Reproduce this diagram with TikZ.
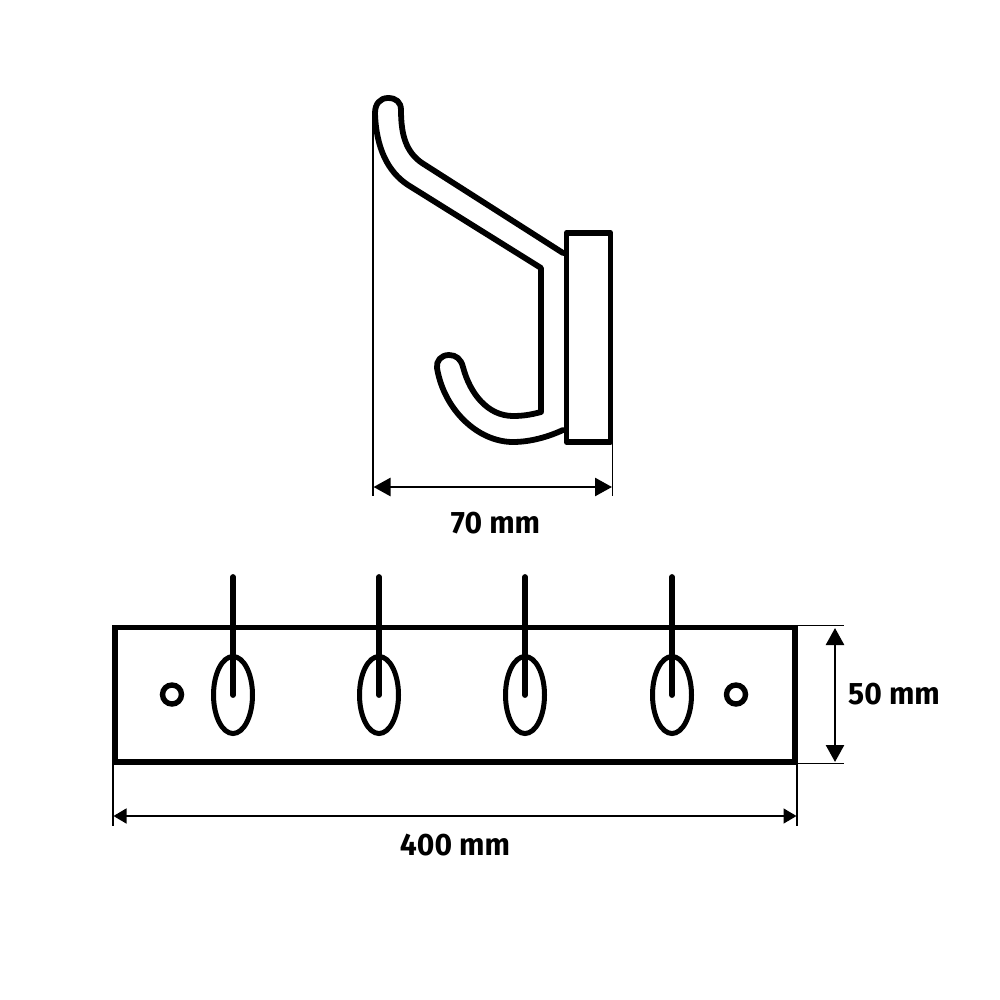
\documentclass[tikz,border=0pt]{standalone}
\usepackage{fontspec}
\setmainfont{Fira Sans}
\usetikzlibrary{arrows.meta}
\tikzset{
  thickline/.style={line width=5.8pt,line join=round,line cap=round},
  barline/.style={line width=5.4pt},
  extline/.style={line width=1.6pt},
  dimbig/.style={line width=2.6pt,{Triangle[length=17pt,width=18pt]}-{Triangle[length=17pt,width=18pt]}},
  dimsmall/.style={line width=1.6pt,{Triangle[length=13pt,width=15pt]}-{Triangle[length=13pt,width=15pt]}},
  dimtext/.style={font=\fontsize{31}{33}\selectfont\bfseries,inner sep=0pt,xscale=.97}
}
\begin{document}
\begin{tikzpicture}[x=1pt,y=-1pt]
\useasboundingbox (0,0) rectangle (1000,1000);
% wall hook, side view
\draw[thickline] (563,253) -- (422,163)
  .. controls (406,152) and (401,135) .. (401,110)
  .. controls (401,102) and (396,98) .. (388,98)
  .. controls (380,98) and (375,104) .. (375,113)
  .. controls (376,148) and (388,172) .. (408,185)
  -- (541,268) -- (541,412)
  .. controls (530,415) and (522,416) .. (513,416)
  .. controls (488,416) and (470,394) .. (463,367)
  .. controls (461,359) and (456,355) .. (449,355)
  .. controls (441,355) and (436,361) .. (437,368)
  .. controls (444,410) and (478,442) .. (513,442)
  .. controls (530,442) and (548,437) .. (563,430);
\draw[thickline] (566.5,233) rectangle (610.5,442);
\coordinate (hl) at (373,115);
\coordinate (hlb) at (373,496);
\coordinate (hr) at (612.5,420);
\coordinate (hrb) at (612.5,496);
\draw[extline] (hl) -- (hlb);
\draw[extline] (hr) -- (hrb);
\draw[dimbig] (373.5,487) -- (612,487);
\node[dimtext] (t70) at (495.5,523) {70 mm};
% rail, front view
\draw[line width=5.2pt] (113,627.5) -- (797,627.5);
\draw[line width=6.4pt] (113,762) -- (797,762);
\draw[barline] (115,625) -- (115,762);
\draw[barline] (795,625) -- (795,762);
\foreach \i/\x in {a/233,b/379,c/525,d/672}{
  \draw[line width=5pt] (\x,695) ellipse [x radius=19.5,y radius=38.5];
  \draw[thickline] (\x,577) -- (\x,695);
}
\draw[line width=5.4pt] (172,694.5) circle (9.5);
\draw[line width=5.4pt] (736,694.5) circle (9.5);
\coordinate (bl) at (113,705);
\coordinate (blb) at (113,826);
\coordinate (br) at (797,705);
\coordinate (brb) at (797,826);
\draw[extline] (bl) -- (blb);
\draw[extline] (br) -- (brb);
\coordinate (tr) at (795,625.5);
\coordinate (trb) at (844,625.5);
\coordinate (ur) at (795,763.5);
\coordinate (urb) at (844,763.5);
\draw[extline] (tr) -- (trb);
\draw[extline] (ur) -- (urb);
\draw[dimbig] (835,628) -- (835,762);
\draw[dimsmall] (113.5,816) -- (796.5,816);
\node[dimtext] (t50) at (894,694) {50 mm};
\node[dimtext] (t400) at (455,845) {400 mm};
\end{tikzpicture}
\end{document}
